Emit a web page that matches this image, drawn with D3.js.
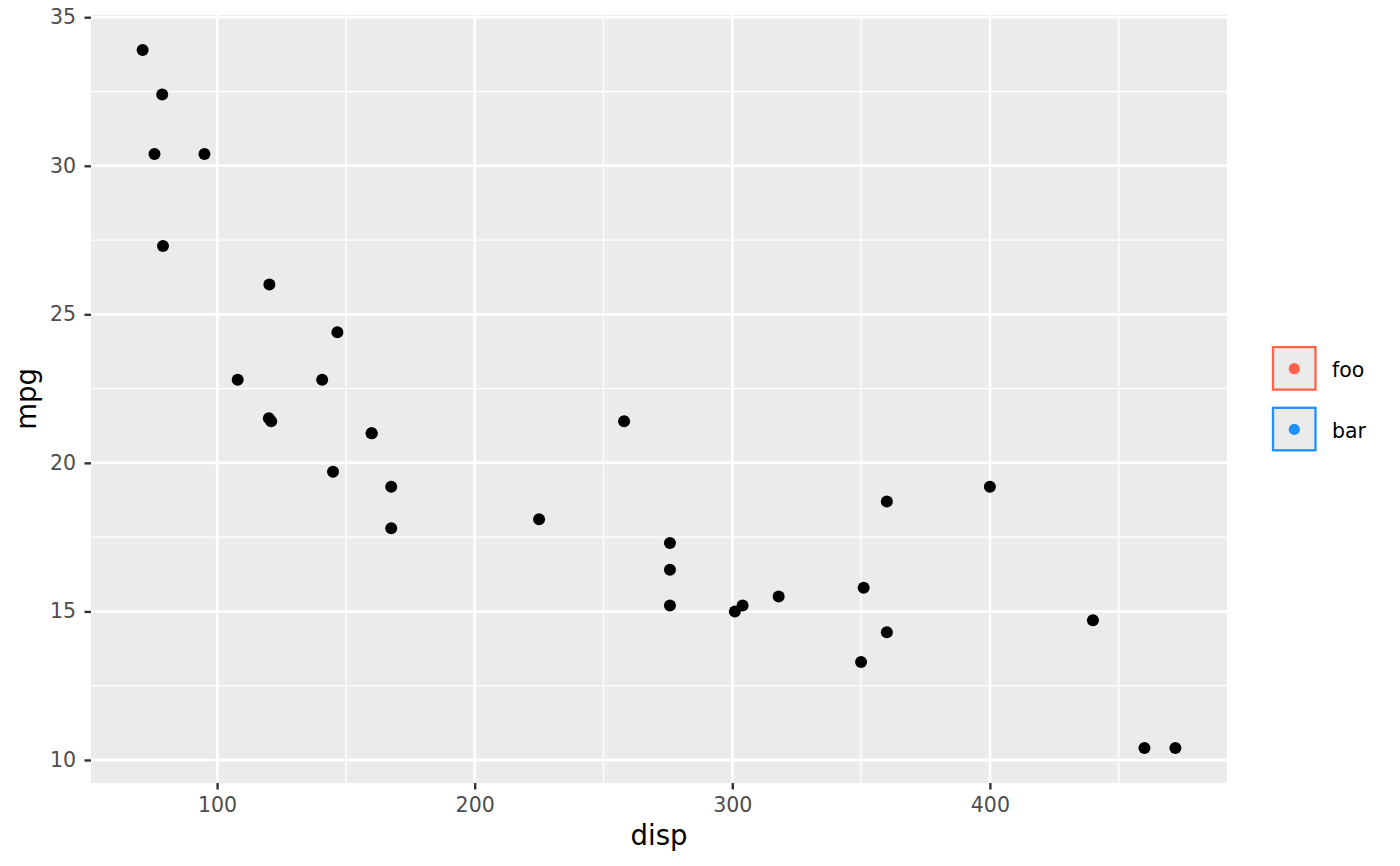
<!DOCTYPE html>
<html><head><meta charset="utf-8">
<script src="https://cdn.jsdelivr.net/npm/d3@7"></script>
<style>body{margin:0;background:#fff}svg{display:block;font-family:"DejaVu Sans",sans-serif}</style>
</head><body><svg id="c" width="1400" height="866"></svg>
<script>
const disp = [160,160,108,258,360,225,360,146.7,140.8,167.6,167.6,275.8,275.8,275.8,472,460,440,78.7,75.7,71.1,120.1,318,304,350,400,79,120.3,95.1,351,145,301,121];
const mpg = [21.0,21.0,22.8,21.4,18.7,18.1,14.3,24.4,22.8,19.2,17.8,16.4,17.3,15.2,10.4,10.4,14.7,32.4,30.4,33.9,21.5,15.5,15.2,13.3,19.2,27.3,26.0,30.4,15.8,19.7,15.0,21.4];
const xTicks = [100,200,300,400];
const xMinor = [150,250,350,450];
const yTicks = [10,15,20,25,30,35];
const yMinor = [12.5,17.5,22.5,27.5,32.5];
const legendLabels = ["foo","bar"];
const legendColors = ["#FF6347","#1E90FF"];

const svg = d3.select("#c");
const L=91, R=1227, T=15, B=783;
const xr=d3.extent(disp), yr=d3.extent(mpg);
const xe=(xr[1]-xr[0])*0.05, ye=(yr[1]-yr[0])*0.05;
const x=d3.scaleLinear().domain([xr[0]-xe,xr[1]+xe]).range([L,R]);
const y=d3.scaleLinear().domain([yr[0]-ye,yr[1]+ye]).range([B,T]);

svg.append("rect").attr("x",L).attr("y",T).attr("width",R-L).attr("height",B-T).attr("fill","#EBEBEB");
const g=svg.append("g");
g.selectAll(".xm").data(xMinor).join("line").attr("x1",d=>x(d)).attr("x2",d=>x(d)).attr("y1",T).attr("y2",B).attr("stroke","#fff").attr("stroke-width",1.3);
g.selectAll(".ym").data(yMinor).join("line").attr("y1",d=>y(d)).attr("y2",d=>y(d)).attr("x1",L).attr("x2",R).attr("stroke","#fff").attr("stroke-width",1.3);
g.selectAll(".xM").data(xTicks).join("line").attr("x1",d=>x(d)).attr("x2",d=>x(d)).attr("y1",T).attr("y2",B).attr("stroke","#fff").attr("stroke-width",2.6);
g.selectAll(".yM").data(yTicks).join("line").attr("y1",d=>y(d)).attr("y2",d=>y(d)).attr("x1",L).attr("x2",R).attr("stroke","#fff").attr("stroke-width",2.6);

const xa=svg.append("g").attr("transform",`translate(0,${B})`).call(d3.axisBottom(x).tickValues(xTicks).tickSize(6.5).tickPadding(8).tickFormat(d3.format("d")));
const ya=svg.append("g").attr("transform",`translate(${L},0)`).call(d3.axisLeft(y).tickValues(yTicks).tickSize(6.5).tickPadding(8.5).tickFormat(d3.format("d")));
[xa,ya].forEach(a=>{a.attr("font-size",null).attr("font-family",null);a.select(".domain").remove();a.selectAll(".tick line").attr("stroke","#333").attr("stroke-width",2.4);a.selectAll(".tick text").attr("fill","#4D4D4D").style("font-size","20.5px").style("font-family","DejaVu Sans");});

svg.append("g").selectAll("circle").data(disp.map((d,i)=>[d,mpg[i]])).join("circle")
  .attr("cx",d=>x(d[0])).attr("cy",d=>y(d[1])).attr("r",6).attr("fill","#000");

svg.append("text").attr("x",(L+R)/2).attr("y",845).attr("text-anchor","middle").style("font-size","27.5px").text("disp");
svg.append("text").attr("transform",`translate(36,${(T+B)/2}) rotate(-90)`).attr("text-anchor","middle").style("font-size","27.5px").text("mpg");

const lg=svg.append("g");
legendLabels.forEach((lab,i)=>{
  const y0=347.1+i*60.7;
  lg.append("rect").attr("x",1273).attr("y",y0).attr("width",42.5).attr("height",42.5).attr("fill","#EBEBEB").attr("stroke",legendColors[i]).attr("stroke-width",2.3);
  lg.append("circle").attr("cx",1294.3).attr("cy",y0+21.6).attr("r",5.6).attr("fill",legendColors[i]);
  lg.append("text").attr("x",1332).attr("y",y0+30).style("font-size","20.5px").attr("fill","#000").text(lab);
});
</script></body></html>
